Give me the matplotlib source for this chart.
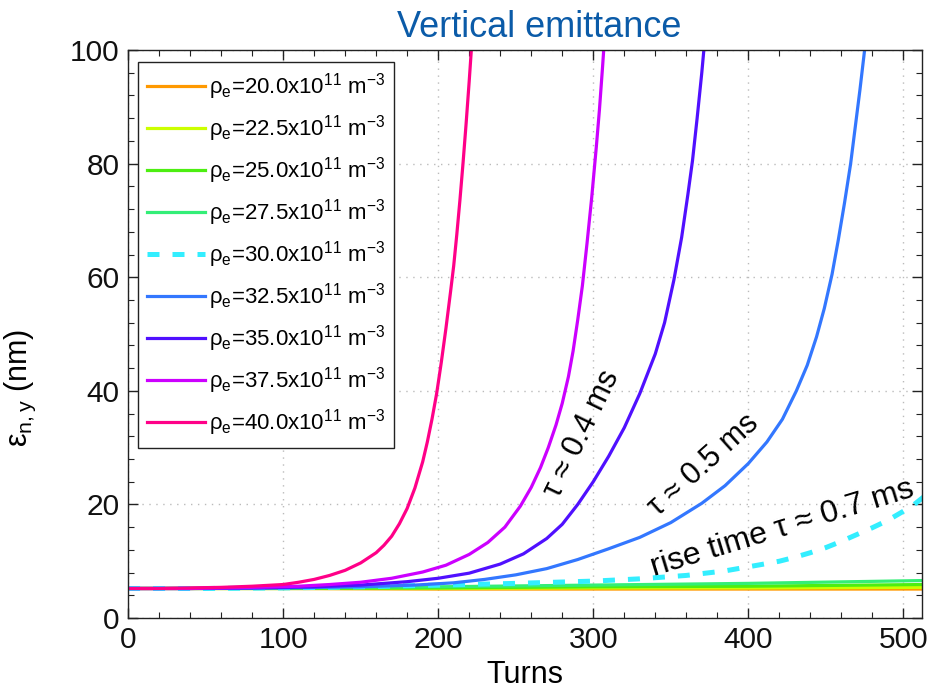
import matplotlib
matplotlib.use("Agg")
import matplotlib.pyplot as plt
from matplotlib.ticker import MultipleLocator

plt.rcParams['font.family'] = ['Liberation Sans', 'DejaVu Sans']
plt.rcParams['mathtext.fontset'] = 'custom'
plt.rcParams['mathtext.rm'] = 'Liberation Sans'
plt.rcParams['mathtext.it'] = 'Liberation Sans:italic'
plt.rcParams['mathtext.bf'] = 'Liberation Sans:bold'

# ---------------- data ----------------
densities = ["20.0", "22.5", "25.0", "27.5", "30.0", "32.5", "35.0", "37.5", "40.0"]
colors = ["#FF9900", "#CCFF00", "#4DEE11", "#33EE77", "#33EEFF",
          "#3377FF", "#5010FF", "#CC00FF", "#FF0088"]

t_flat = [0, 100, 200, 300, 400, 513]
v_200 = [5.2, 5.2, 5.1, 5.1, 5.1, 5.1]
v_225 = [5.2, 5.2, 5.2, 5.3, 5.3, 5.4]
v_250 = [5.2, 5.2, 5.3, 5.5, 5.6, 5.9]
v_275 = [5.2, 5.3, 5.5, 5.8, 6.1, 6.6]

t_300 = [0, 50, 100, 150, 200, 250, 300, 330, 360, 385, 408, 420, 430, 440, 450,
         460, 470, 480, 490, 500, 507, 513]
v_300 = [5.2, 5.2, 5.3, 5.5, 5.8, 6.1, 6.5, 6.9, 7.5, 8.3, 9.4, 10.0, 10.7, 11.5, 12.4,
         13.5, 14.7, 15.9, 17.2, 18.8, 20.0, 21.3]

t_325 = [0, 50, 100, 150, 185, 210, 230, 250, 270, 290, 310, 330, 350, 370, 385, 400,
         412, 422, 431, 438, 444, 449, 454, 458, 462, 466, 469, 472, 475, 476.5]
v_325 = [5.2, 5.2, 5.3, 5.5, 5.8, 6.2, 6.8, 7.6, 8.7, 10.3, 12.2, 14.2, 16.8, 20.2, 23.3, 27.2,
         31.0, 35.0, 40.0, 44.5, 49.5, 54.5, 60.5, 66.5, 73.0, 80.0, 86.5, 93.0, 100.0, 104.0]

t_350 = [0, 40, 80, 120, 150, 180, 200, 220, 240, 255, 270, 280, 290, 300, 310, 320,
         330, 340, 346, 352, 357, 361, 364, 367, 370, 372]
v_350 = [5.2, 5.2, 5.3, 5.5, 5.8, 6.4, 7.0, 7.9, 9.5, 11.3, 14.0, 16.5, 20.0, 24.0, 28.5, 33.5,
         39.5, 46.5, 52.0, 59.5, 67.0, 74.5, 80.5, 88.0, 96.0, 102.0]

t_375 = [0, 40, 80, 110, 130, 150, 170, 190, 205, 220, 232, 243, 253, 260, 266, 271,
         276, 280, 284, 287, 290, 293, 296, 299, 302, 304, 306, 307.5]
v_375 = [5.2, 5.2, 5.4, 5.6, 5.9, 6.3, 7.0, 8.1, 9.3, 11.2, 13.3, 16.0, 19.7, 23.0, 26.5, 30.0,
         34.0, 37.8, 42.5, 47.0, 52.5, 58.5, 66.0, 74.0, 83.0, 89.5, 97.0, 103.0]

t_400 = [0, 20, 40, 60, 80, 100, 110, 120, 130, 140, 150, 160, 165, 170, 175, 180,
         185, 190, 193, 196, 199, 202, 205, 208, 210, 212, 214, 216, 218, 220, 221.5, 223]
v_400 = [5.2, 5.2, 5.3, 5.4, 5.6, 5.9, 6.3, 6.8, 7.5, 8.4, 9.7, 11.5, 12.8, 14.4, 16.6, 19.3,
         22.9, 27.5, 31.0, 35.0, 39.5, 45.0, 51.0, 57.5, 62.0, 67.5, 73.5, 80.0, 87.0, 94.5, 100.5, 106.0]

series_t = [t_flat, t_flat, t_flat, t_flat, t_300, t_325, t_350, t_375, t_400]
series_v = [v_200, v_225, v_250, v_275, v_300, v_325, v_350, v_375, v_400]

x_ticks = [0, 100, 200, 300, 400, 500]
y_ticks = [0, 20, 40, 60, 80, 100]

# ---------------- figure ----------------
fig = plt.figure(figsize=(9.28, 6.91), dpi=100)
ax = fig.add_axes([0.138, 0.1056, 0.8555, 0.822])

for d, c, t, v in zip(densities, colors, series_t, series_v):
    label = 'ρ$_\\mathregular{e}$=' + d + 'x10$^\\mathregular{11}$ m$^\\mathregular{−3}$'
    if d == "30.0":
        ax.plot(t, v, color=c, lw=3.6, dashes=(2.4, 2.6), label=label, solid_capstyle='butt')
    else:
        ax.plot(t, v, color=c, lw=2.3, label=label)

ax.set_xlim(0, 512)
ax.set_ylim(0, 100)
ax.set_xticks(x_ticks)
ax.set_yticks(y_ticks)
ax.xaxis.set_minor_locator(MultipleLocator(20))
ax.yaxis.set_minor_locator(MultipleLocator(4))
ax.tick_params(which='both', direction='in', top=True, right=True, labelsize=21.5,
               color='#222222', labelcolor='#111111')
ax.tick_params(which='major', length=7, width=1, pad=6)
ax.tick_params(which='minor', length=4, width=0.8)
ax.grid(True, which='major', color='#BBBBBB', linestyle=(0, (1, 4)), linewidth=1)
for sp in ax.spines.values():
    sp.set_color('#222222')
    sp.set_linewidth(1)

ax.set_xlabel('Turns', fontsize=22, labelpad=4)
ax.set_ylabel('ε$_\\mathregular{n,y}$ (nm)', fontsize=22)
ax.yaxis.set_label_coords(-0.113, 0.405)
ax.text(0.5176, 1.023, 'Vertical emittance', transform=ax.transAxes, fontsize=26,
        color='#0B5BA8', ha='center', va='baseline')

leg = ax.legend(loc='upper left', bbox_to_anchor=(0.0126, 0.979), fontsize=16,
                frameon=True, fancybox=False, edgecolor='#222222', framealpha=1,
                handlelength=2.6, handletextpad=0.15, labelspacing=0.5,
                borderpad=0.42, borderaxespad=0)
leg.get_frame().set_linewidth(1)

ax.text(293, 32.5, 'τ ≈ 0.4 ms', fontsize=22, rotation=64, rotation_mode='anchor',
        ha='center', va='center')
ax.text(371, 27.0, 'τ ≈ 0.5 ms', fontsize=22, rotation=42, rotation_mode='anchor',
        ha='center', va='center')
ax.text(422, 15.8, 'rise time τ ≈ 0.7 ms', fontsize=23, rotation=17, rotation_mode='anchor',
        ha='center', va='center')

fig.savefig('out.png', dpi=100)
